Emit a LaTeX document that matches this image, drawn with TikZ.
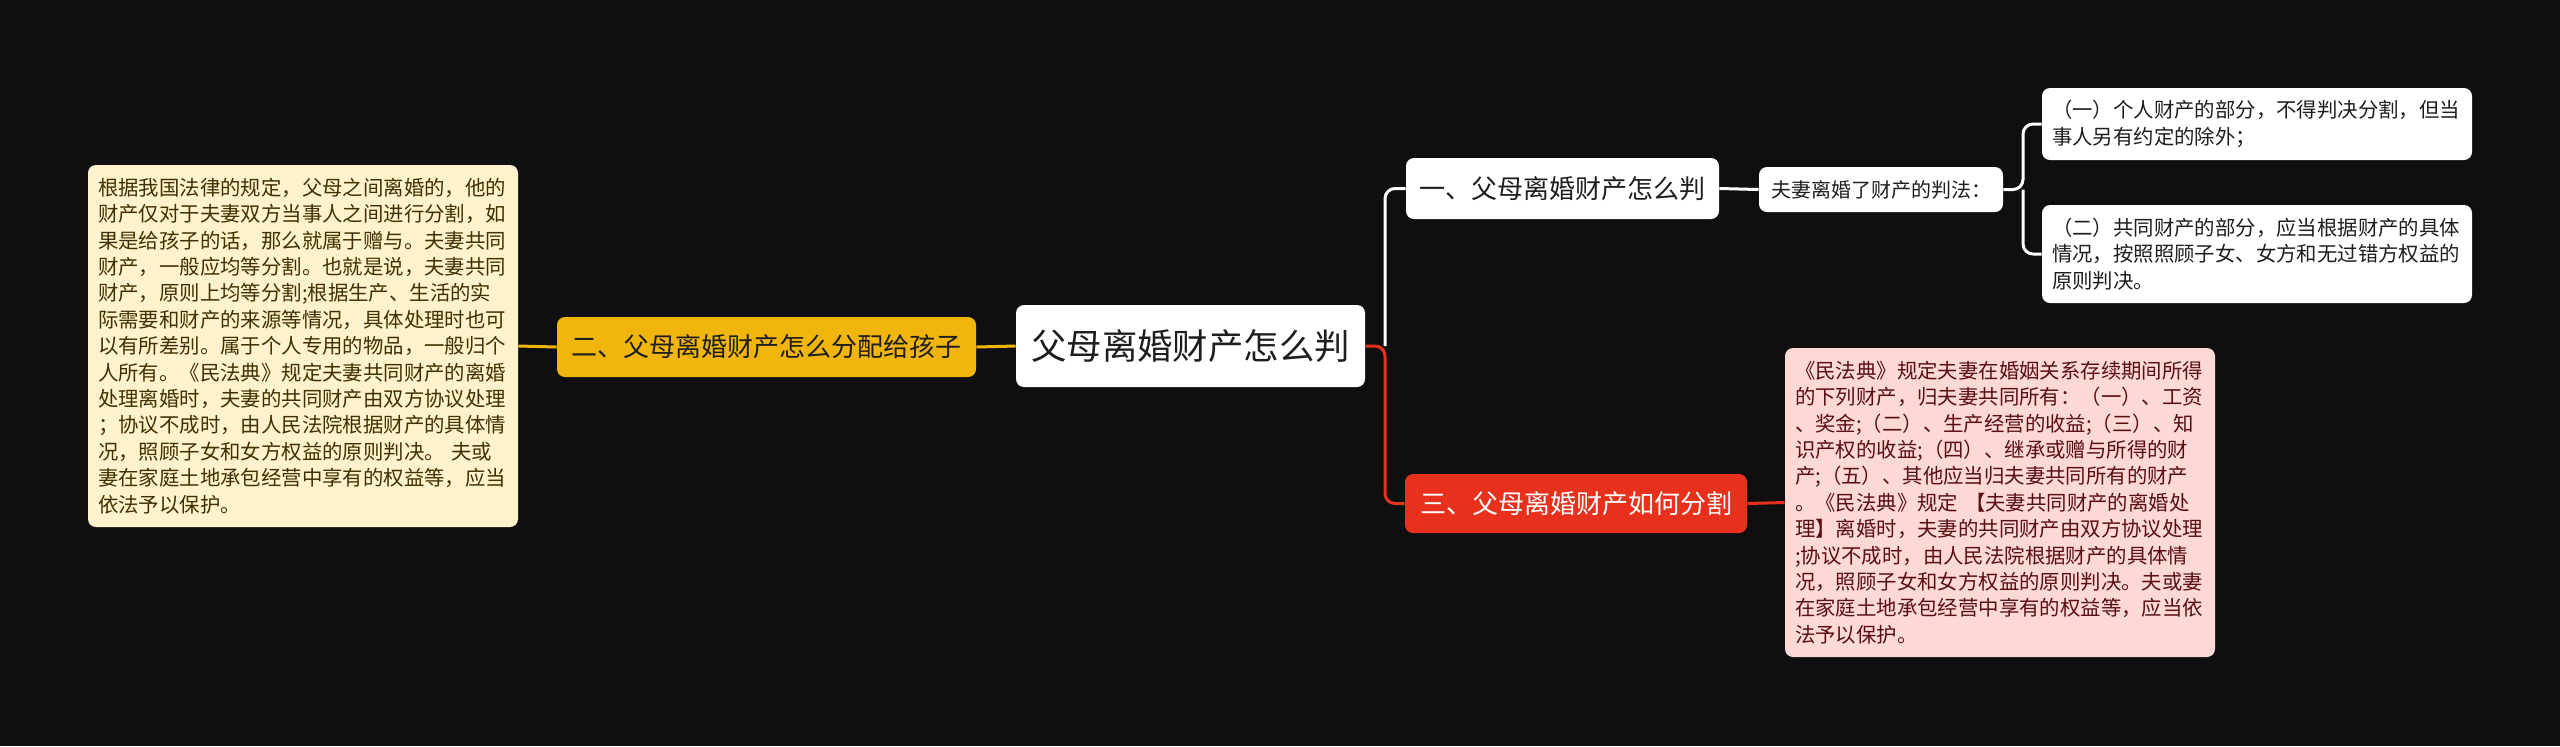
\documentclass[tikz,border=0pt]{standalone}
\usepackage{fontspec}
\setmainfont{Noto Sans CJK SC}
\definecolor{bg}{HTML}{0F0F0F}
\definecolor{creamfill}{HTML}{FFF2CC}
\definecolor{creamtext}{HTML}{3D3200}
\definecolor{amber}{HTML}{F0B60E}
\definecolor{redb}{HTML}{E8311C}
\definecolor{pinkfill}{HTML}{FDD9D6}
\definecolor{pinktext}{HTML}{5A0F0F}
\definecolor{darktext}{HTML}{1E1E1E}
\tikzset{
  box/.style={rounded corners=4pt, inner sep=0pt, anchor=center},
  para/.style={box, text width=205pt, align=left, font=\fontsize{10.2pt}{13.2pt}\selectfont},
  conn/.style={line width=1.5pt, rounded corners=5pt},
}
\begin{document}
\begin{tikzpicture}[x=0.5pt,y=-0.5pt]
\fill[bg] (0,0) rectangle (2560,746);
\useasboundingbox (0,0) rectangle (2560,746);

\node[para, fill=creamfill, text=creamtext, minimum width=215pt, minimum height=181pt] (cream) at (303,346) {根据我国法律的规定，父母之间离婚的，他的\\财产仅对于夫妻双方当事人之间进行分割，如\\果是给孩子的话，那么就属于赠与。夫妻共同\\财产，一般应均等分割。也就是说，夫妻共同\\财产，原则上均等分割;根据生产、生活的实\\际需要和财产的来源等情况，具体处理时也可\\以有所差别。属于个人专用的物品，一般归个\\人所有。《民法典》规定夫妻共同财产的离婚\\处理离婚时，夫妻的共同财产由双方协议处理\\；协议不成时，由人民法院根据财产的具体情\\况，照顾子女和女方权益的原则判决。 夫或\\妻在家庭土地承包经营中享有的权益等，应当\\依法予以保护。};

\node[box, fill=amber, text=darktext, minimum width=209.5pt, minimum height=30pt, font=\fontsize{13pt}{15pt}\selectfont] (yel) at (766.5,347) {二、父母离婚财产怎么分配给孩子};

\node[box, fill=white, text=darktext, minimum width=174.5pt, minimum height=41pt, font=\fontsize{17.7pt}{21pt}\selectfont] (root) at (1190.5,346) {父母离婚财产怎么判};

\node[box, fill=white, text=darktext, minimum width=156.5pt, minimum height=30.5pt, font=\fontsize{13pt}{15pt}\selectfont] (b1) at (1562.5,188.5) {一、父母离婚财产怎么判};

\node[box, fill=white, text=darktext, minimum width=122pt, minimum height=22.5pt, font=\fontsize{10pt}{12pt}\selectfont] (sub) at (1881,189.5) {夫妻离婚了财产的判法：};

\node[para, fill=white, text=darktext, minimum width=215pt, minimum height=36pt] (leaf1) at (2257,124) {（一）个人财产的部分，不得判决分割，但当\\事人另有约定的除外；};

\node[para, fill=white, text=darktext, minimum width=215pt, minimum height=49pt] (leaf2) at (2257,254) {（二）共同财产的部分，应当根据财产的具体\\情况，按照照顾子女、女方和无过错方权益的\\原则判决。};

\node[box, fill=redb, text=white, minimum width=171pt, minimum height=29.5pt, font=\fontsize{13pt}{15pt}\selectfont] (b3) at (1576,503.5) {三、父母离婚财产如何分割};

\node[para, fill=pinkfill, text=pinktext, minimum width=215pt, minimum height=154.5pt] (pink) at (2000,502.5) {《民法典》规定夫妻在婚姻关系存续期间所得\\的下列财产，归夫妻共同所有：（一）、工资\\、奖金;（二）、生产经营的收益;（三）、知\\识产权的收益;（四）、继承或赠与所得的财\\产;（五）、其他应当归夫妻共同所有的财产\\。《民法典》规定 【夫妻共同财产的离婚处\\理】离婚时，夫妻的共同财产由双方协议处理\\;协议不成时，由人民法院根据财产的具体情\\况，照顾子女和女方权益的原则判决。夫或妻\\在家庭土地承包经营中享有的权益等，应当依\\法予以保护。};

\coordinate (jx) at (1385,346);
\coordinate (jy) at (2023,189.5);

\draw[conn, amber] (cream.east) -- (yel.west);
\draw[conn, amber] (yel.east) -- (root.west);
\draw[conn, white] (jx) |- (b1.west);
\draw[conn, redb] (root.east) -- (jx) |- (b3.west);
\draw[conn, white] (b1.east) -- (sub.west);
\draw[conn, white] (sub.east) -- (jy) |- (leaf1.west);
\draw[conn, white] (jy) |- (leaf2.west);
\draw[conn, redb] (b3.east) -- (pink.west);
\end{tikzpicture}
\end{document}
